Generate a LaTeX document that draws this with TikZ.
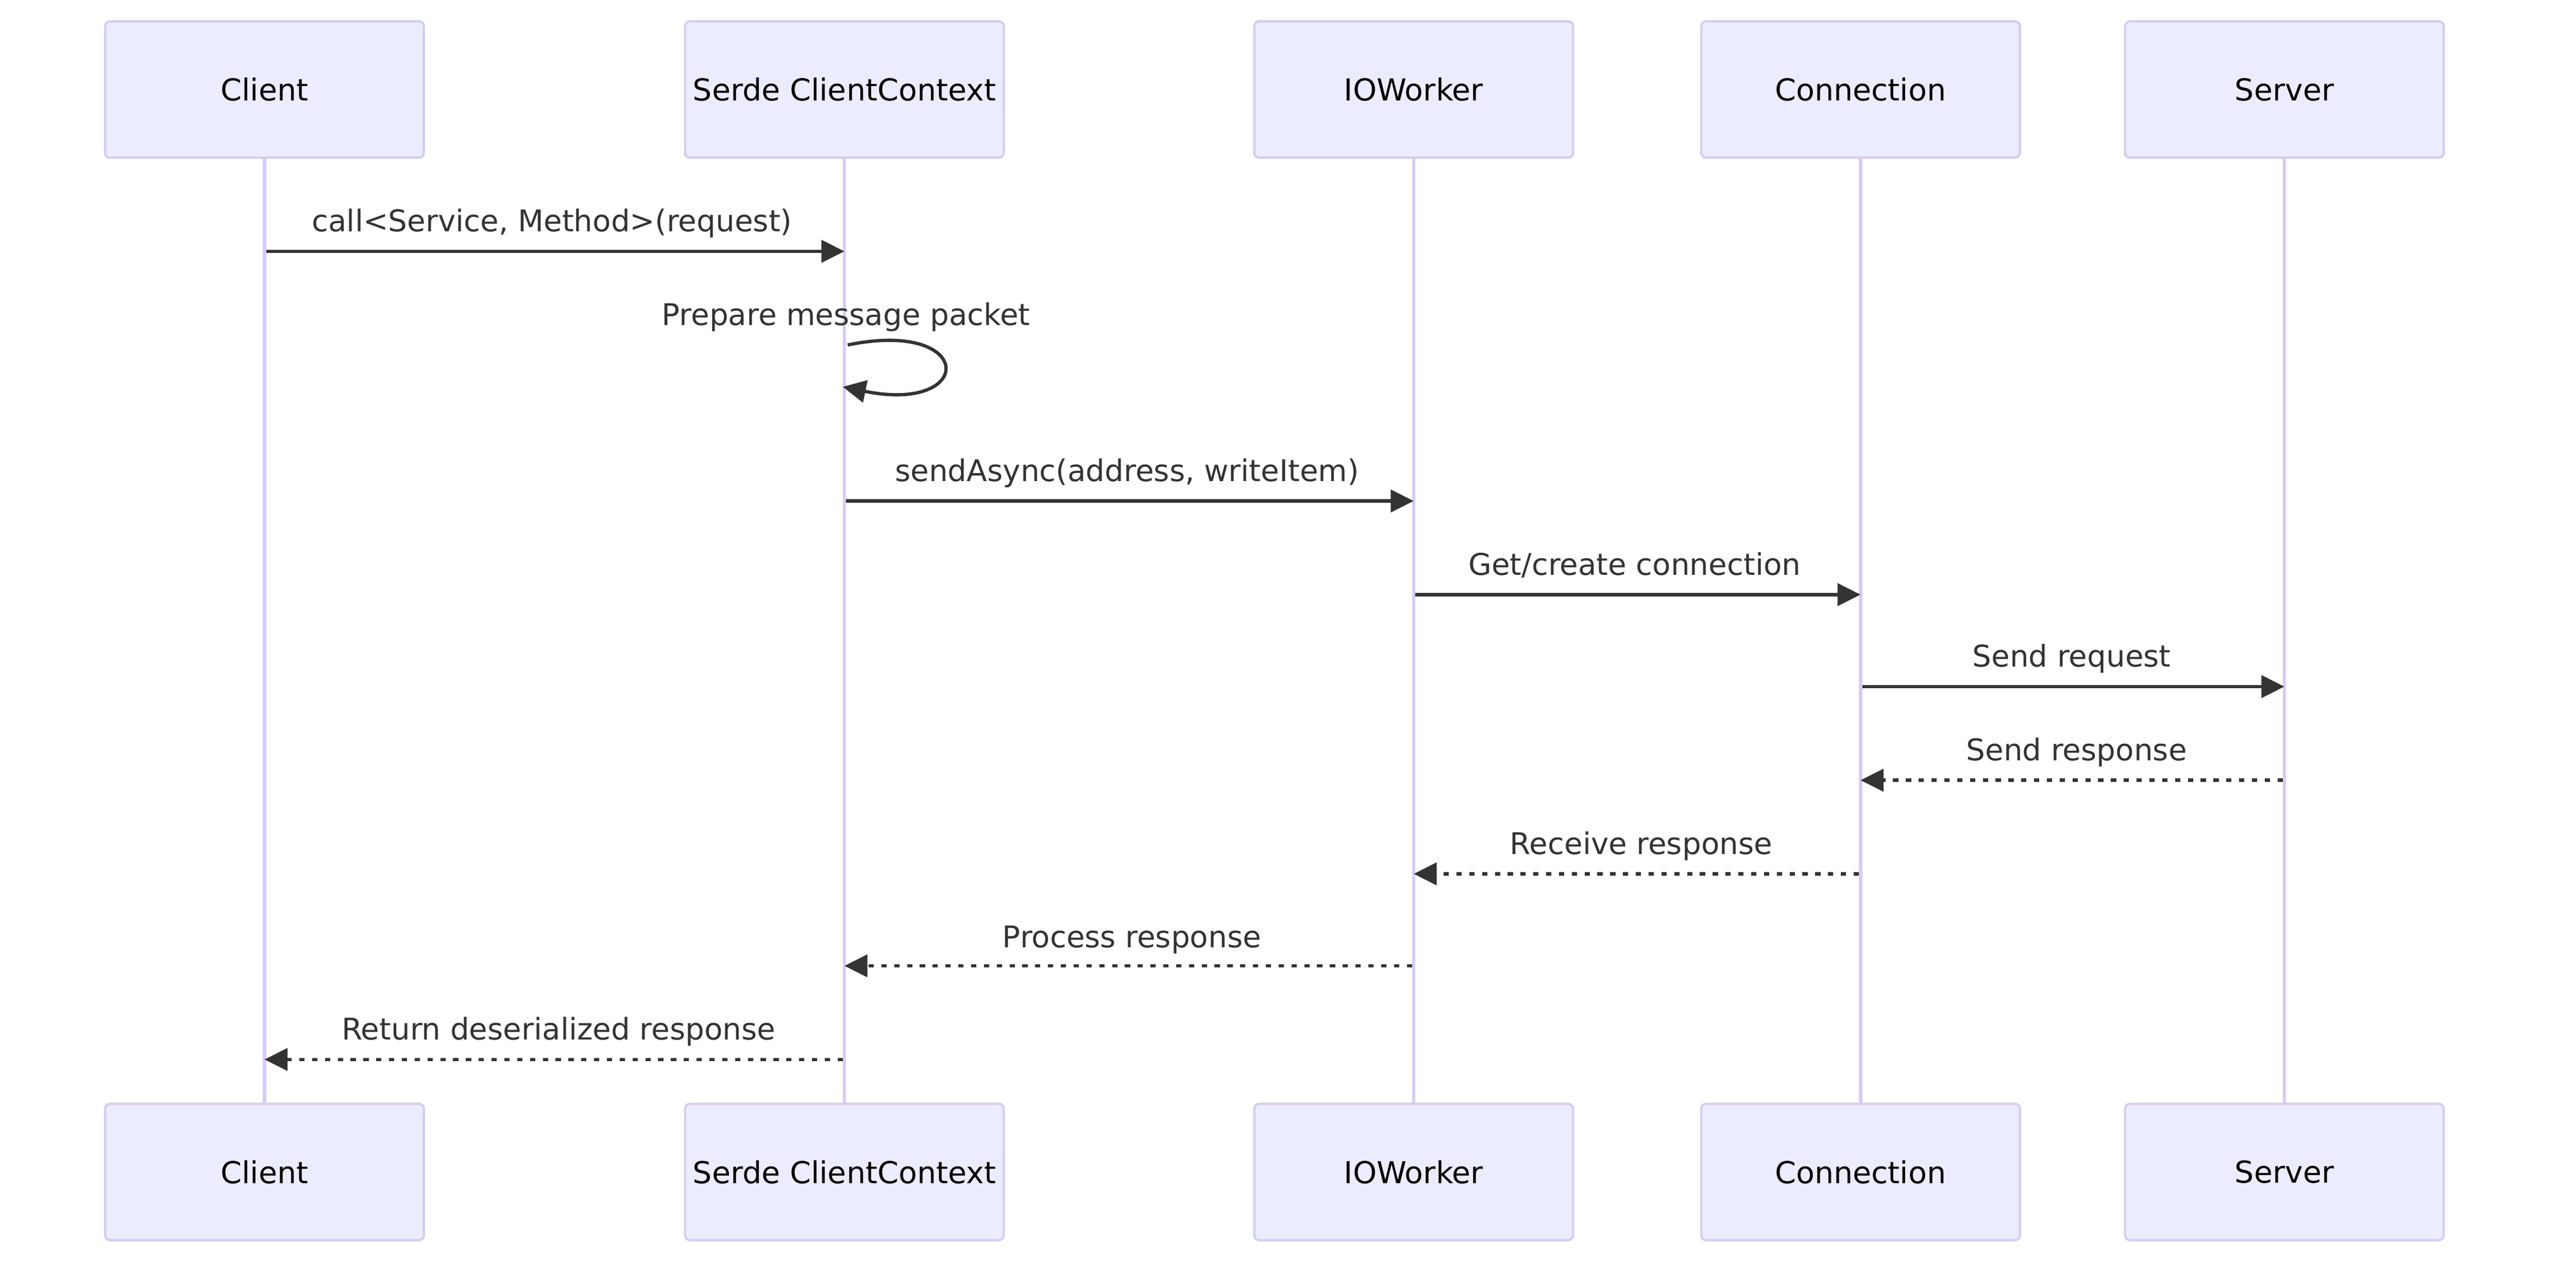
\documentclass[tikz,border=0pt]{standalone}
\usepackage{fontspec}
\setmainfont{DejaVu Sans}
\usetikzlibrary{arrows.meta}
\definecolor{actfill}{HTML}{ECECFF}
\definecolor{actline}{HTML}{D6CCF2}
\definecolor{msgcol}{HTML}{333333}
\tikzset{
  actor/.style={draw=actline, fill=actfill, line width=1.4pt, rounded corners=3pt,
    minimum width=194pt, minimum height=83pt, inner sep=0pt, text=black,
    font=\fontsize{18.4}{22}\selectfont},
  lifeline/.style={draw=actline, line width=2pt},
  msg/.style={draw=msgcol, line width=2pt, -{Triangle[length=14pt,width=13.5pt]}},
  reply/.style={msg, dash pattern=on 3.2pt off 4.6pt},
  lbl/.style={text=msgcol, font=\fontsize{18.2}{22}\selectfont, inner sep=0pt, anchor=base}
}
\begin{document}
\begin{tikzpicture}[x=1pt,y=-1pt]
\useasboundingbox (0,0) rectangle (1568,778);
% top actors
\node[actor] (clientT) at (161,54.5) {Client};
\node[actor] (serdeT)  at (514,54.5) {Serde ClientContext};
\node[actor] (ioT)     at (860.5,54.5) {IOWorker};
\node[actor] (connT)   at (1132.5,54.5) {Connection};
\node[actor] (servT)   at (1390.5,54.5) {Server};
% bottom actors
\node[actor] (clientB) at (161,713.5) {Client};
\node[actor] (serdeB)  at (514,713.5) {Serde ClientContext};
\node[actor] (ioB)     at (860.5,713.5) {IOWorker};
\node[actor] (connB)   at (1132.5,713.5) {Connection};
\node[actor] (servB)   at (1390.5,713.5) {Server};
% lifelines
\draw[lifeline] (clientT.south) -- (clientB.north);
\draw[lifeline] (serdeT.south) -- (serdeB.north);
\draw[lifeline] (ioT.south) -- (ioB.north);
\draw[lifeline] (connT.south) -- (connB.north);
\draw[lifeline] (servT.south) -- (servB.north);
% message levels
\coordinate (m1) at (0,153);
\coordinate (m3) at (0,305);
\coordinate (m4) at (0,362);
\coordinate (m5) at (0,418);
\coordinate (m6) at (0,475);
\coordinate (m7) at (0,532);
\coordinate (m8) at (0,588);
\coordinate (m9) at (0,645);
% 1
\draw[msg] ([xshift=1pt]clientT.south |- m1) -- (serdeT.south |- m1);
\node[lbl] (l1) at (336,141) {call<Service, Method>(request)};
% 2 self loop
\coordinate (s1) at (516,210);
\coordinate (s2) at (513,235.5);
\draw[msg] (s1) .. controls (594,194) and (594,252) .. (s2);
\node[lbl] (l2) at (515,198) {Prepare message packet};
% 3
\draw[msg] ([xshift=1pt]serdeT.south |- m3) -- (ioT.south |- m3);
\node[lbl] (l3) at (686,293) {sendAsync(address, writeItem)};
% 4
\draw[msg] ([xshift=1pt]ioT.south |- m4) -- (connT.south |- m4);
\node[lbl] (l4) at (995,350) {Get/create connection};
% 5
\draw[msg] ([xshift=1pt]connT.south |- m5) -- (servT.south |- m5);
\node[lbl] (l5) at (1261,406) {Send request};
% 6
\draw[reply] ([xshift=-1pt]servT.south |- m6) -- (connT.south |- m6);
\node[lbl] (l6) at (1264,463) {Send response};
% 7
\draw[reply] ([xshift=-1pt]connT.south |- m7) -- (ioT.south |- m7);
\node[lbl] (l7) at (999,520) {Receive response};
% 8
\draw[reply] ([xshift=-1pt]ioT.south |- m8) -- (serdeT.south |- m8);
\node[lbl] (l8) at (689,577) {Process response};
% 9
\draw[reply] ([xshift=-1pt]serdeT.south |- m9) -- (clientT.south |- m9);
\node[lbl] (l9) at (340,633) {Return deserialized response};
\end{tikzpicture}
\end{document}
